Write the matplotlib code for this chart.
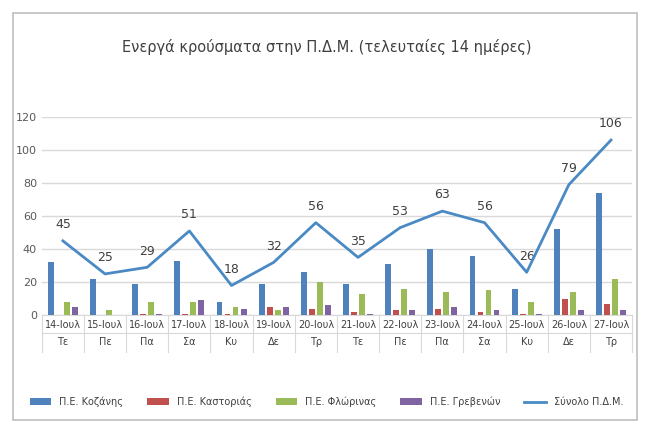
import matplotlib.pyplot as plt
import numpy as np

dates = ['14-Ιουλ', '15-Ιουλ', '16-Ιουλ', '17-Ιουλ', '18-Ιουλ', '19-Ιουλ', '20-Ιουλ',
         '21-Ιουλ', '22-Ιουλ', '23-Ιουλ', '24-Ιουλ', '25-Ιουλ', '26-Ιουλ', '27-Ιουλ']
days = ['Τε', 'Πε', 'Πα', 'Σα', 'Κυ', 'Δε', 'Τρ', 'Τε', 'Πε', 'Πα', 'Σα', 'Κυ', 'Δε', 'Τρ']
kozani = [32, 22, 19, 33, 8, 19, 26, 19, 31, 40, 36, 16, 52, 74]
kastoria = [0, 0, 1, 1, 1, 5, 4, 2, 3, 4, 2, 1, 10, 7]
florina = [8, 3, 8, 8, 5, 3, 20, 13, 16, 14, 15, 8, 14, 22]
grevena = [5, 0, 1, 9, 4, 5, 6, 1, 3, 5, 3, 1, 3, 3]
total = [45, 25, 29, 51, 18, 32, 56, 35, 53, 63, 56, 26, 79, 106]

series = [('Π.Ε. Κοζάνης', kozani, '#4f81bd'),
          ('Π.Ε. Καστοριάς', kastoria, '#c0504d'),
          ('Π.Ε. Φλώρινας', florina, '#9bbb59'),
          ('Π.Ε. Γρεβενών', grevena, '#8064a2')]

fig = plt.figure(figsize=(6.53, 4.33), dpi=100)
# outer frame
fig.patches.append(plt.Rectangle((0.02, 0.03), 0.955, 0.94, transform=fig.transFigure,
                                 fill=False, edgecolor='#bfbfbf', lw=1.2))
ax = fig.add_axes([0.064, 0.272, 0.904, 0.458])

x = np.arange(len(dates))
w = 0.14
for i, (name, vals, c) in enumerate(series):
    ax.bar(x + (i - 1.5) * 0.19, vals, w, color=c, label=name, zorder=3)
ax.plot(x, total, color='#4a8ac4', lw=2, label='Σύνολο Π.Δ.Μ.', zorder=4)
for xi, t in zip(x, total):
    ax.annotate(str(t), (xi, t), xytext=(0, 7), textcoords='offset points',
                ha='center', va='bottom', fontsize=9, color='#404040')

ax.set_xlim(-0.5, len(dates) - 0.5)
ax.set_ylim(0, 120)
ax.set_yticks(range(0, 121, 20))
ax.tick_params(axis='y', length=0, labelsize=8, colors='#595959')
ax.grid(axis='y', color='#d9d9d9', lw=1, zorder=0)
for s in ['top', 'right', 'left']:
    ax.spines[s].set_visible(False)
ax.spines['bottom'].set_color('#d9d9d9')
ax.set_xticks([])

# two-row category table
for xi, (d, dy) in enumerate(zip(dates, days)):
    ax.text(xi, -6, d, ha='center', va='center', fontsize=7, color='#404040')
    ax.text(xi, -16, dy, ha='center', va='center', fontsize=7, color='#404040')
for b in np.arange(-0.5, len(dates), 1.0):
    ax.plot([b, b], [0, -22], color='#d9d9d9', lw=0.8, clip_on=False)
ax.plot([-0.5, len(dates) - 0.5], [-11, -11], color='#d9d9d9', lw=0.8, clip_on=False)

fig.text(0.5, 0.892, 'Ενεργά κρούσματα στην Π.Δ.Μ. (τελευταίες 14 ημέρες)',
         ha='center', va='center', fontsize=10.5, color='#404040')
h, l = ax.get_legend_handles_labels()
h = h[1:] + h[:1]
l = l[1:] + l[:1]
leg = fig.legend(h, l, loc='center', bbox_to_anchor=(0.5, 0.072), ncol=5, frameon=False,
                 fontsize=7, handlelength=2.2, columnspacing=2.5)
for t in leg.get_texts():
    t.set_color('#404040')

fig.savefig('out.png', dpi=100)
